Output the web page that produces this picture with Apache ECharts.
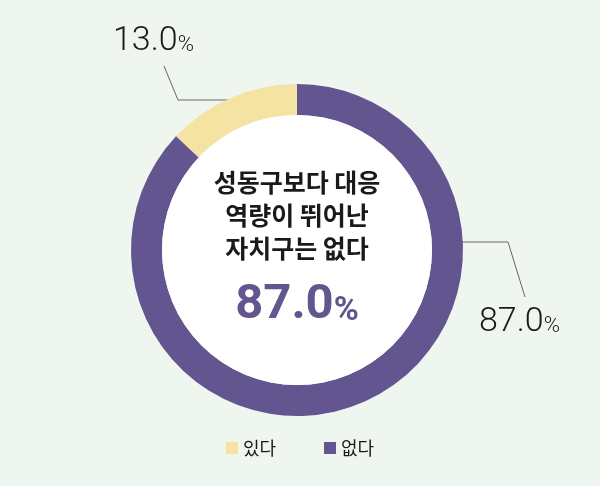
<!DOCTYPE html>
<html>
	<head>
		<meta charset="utf-8">
		<title>대응 역량 조사</title>
		<script src="https://cdn.jsdelivr.net/npm/echarts@6/dist/echarts.min.js"></script>
		<style>
			html, body { margin: 0; padding: 0; background: #eff6f0; }
			#main { width: 600px; height: 486px; }
		</style>
	</head>
	<body>
		<div id="main"></div>
		<script>
			// 데이터
			var categories = ['있다', '없다'];
			var values = [13.0, 87.0];
			var colors = ['#f5e3a4', '#625590'];
			var centerLines = ['성동구보다 대응', '역량이 뛰어난', '자치구는 없다'];
			var centerValue = '87.0';

			var myChart = echarts.init(document.getElementById('main'));

			// 라벨 위치 (안내선 포함)
			var labelSpots = [
				{ x: 113, y: 41, line: [[238, 100], [178, 100], [164, 66]] },
				{ x: 479, y: 322, line: [[452, 242], [508, 242], [525, 297]] }
			];

			var option = {
				backgroundColor: '#eff6f0',
				title: {
					text: centerLines.map(function (t) { return '{t|' + t + '}'; }).join('\n') +
						'\n{v|' + centerValue + '}{p|%}',
					left: 297,
					top: 166,
					padding: 0,
					textAlign: 'center',
					textStyle: {
						rich: {
							t: { fontFamily: 'Noto Sans CJK KR', fontSize: 25, fontWeight: 'bold', color: '#1a1a1a', lineHeight: 33 },
							v: { fontFamily: 'Roboto', fontSize: 49, fontWeight: 'bold', color: '#625590', lineHeight: 82 },
							p: { fontFamily: 'Roboto', fontSize: 34, fontWeight: 'bold', color: '#625590', lineHeight: 82, padding: [10, 0, 0, 0] }
						}
					}
				},
				legend: {
					data: categories,
					bottom: 24,
					left: 'center',
					icon: 'rect',
					itemWidth: 12,
					itemHeight: 12,
					itemGap: 48,
					textStyle: { fontFamily: 'Noto Sans CJK KR', fontSize: 18, color: '#1a1a1a' }
				},
				series: [
					{
						type: 'pie',
						center: [297, 250],
						radius: [135, 166],
						startAngle: 90,
						clockwise: false,
						silent: true,
						itemStyle: { color: function (p) { return colors[p.dataIndex]; } },
						label: {
							show: true,
							formatter: function (p) { return '{a|' + p.value.toFixed(1) + '}{b|%}'; },
							rich: {
								a: { fontFamily: 'Roboto', fontWeight: 300, fontSize: 34, color: '#1a1a1a' },
								b: { fontFamily: 'Roboto', fontWeight: 300, fontSize: 22, color: '#1a1a1a', padding: [8, 0, 0, 0] }
							}
						},
						labelLine: {
							show: true,
							lineStyle: { color: '#666666', width: 1 }
						},
						labelLayout: function (params) {
							var s = labelSpots[params.dataIndex];
							return {
								x: s.x,
								y: s.y,
								align: 'left',
								verticalAlign: 'middle',
								labelLinePoints: s.line
							};
						},
						data: categories.map(function (c, i) {
							return { name: c, value: values[i] };
						})
					},
					{
						// 도넛 안쪽 흰 원
						type: 'pie',
						center: [297, 250],
						radius: [0, 135],
						silent: true,
						label: { show: false },
						labelLine: { show: false },
						itemStyle: { color: '#ffffff' },
						data: [{ value: 1, name: '' }]
					}
				]
			};
			myChart.setOption(option);
		</script>
	</body>
</html>
